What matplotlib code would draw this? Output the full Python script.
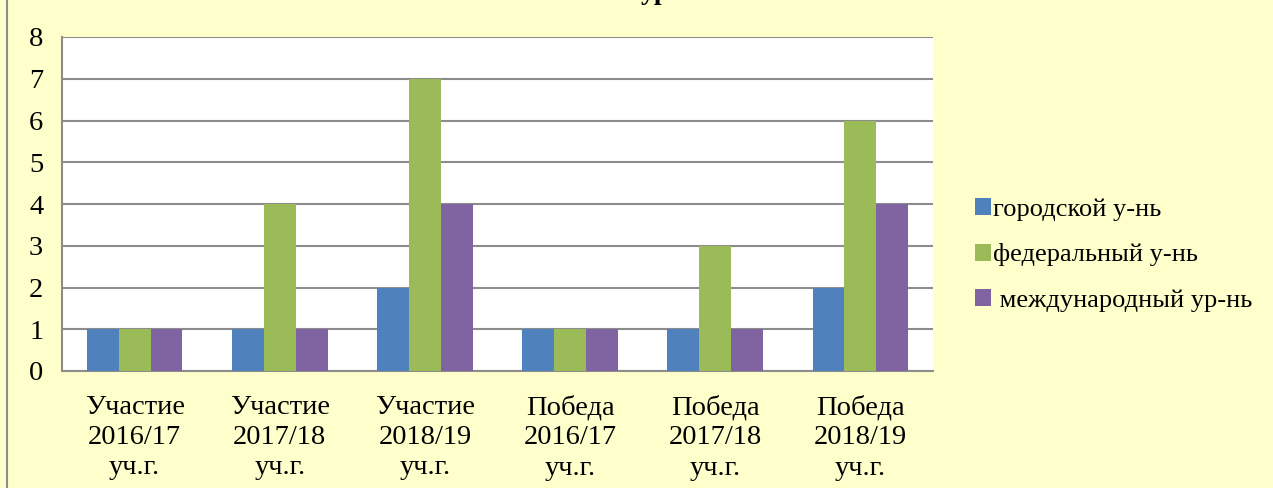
import numpy as np
import matplotlib.pyplot as plt
from matplotlib.lines import Line2D

# Data
categories = ['Участие\n2016/17\nуч.г.', 'Участие\n2017/18\nуч.г.', 'Участие\n2018/19\nуч.г.',
              'Победа\n2016/17\nуч.г.', 'Победа\n2017/18\nуч.г.', 'Победа\n2018/19\nуч.г.']
city = [1, 1, 2, 1, 1, 2]
federal = [1, 4, 7, 1, 3, 6]
international = [1, 1, 4, 1, 1, 4]
series_names = ['городской у-нь', 'федеральный у-нь', ' международный ур-нь']
colors = ['#4F81BD', '#9BBB59', '#8064A2']

plt.rcParams['font.family'] = ['Liberation Serif', 'DejaVu Serif']

fig = plt.figure(figsize=(12.73, 4.88), dpi=100)
fig.patch.set_facecolor('#FFFFCC')
ax = fig.add_axes([62 / 1273, 1 - 371 / 488, (933 - 62) / 1273, (371 - 37) / 488])
ax.set_facecolor('white')

x = np.arange(len(categories))
w = 0.22
for i, vals in enumerate([city, federal, international]):
    ax.bar(x + (i - 1) * w, vals, width=w, color=colors[i], label=series_names[i], zorder=3)

ax.set_xlim(-0.5, len(categories) - 0.5)
ax.set_ylim(0, 8)
ax.set_yticks(range(0, 9))
ax.set_xticks(x)
ax.set_xticklabels(categories, fontsize=20.5, linespacing=1.28)
ax.tick_params(axis='y', labelsize=20.5, length=0, pad=13.5)
ax.tick_params(axis='x', length=0, pad=17)
ax.grid(axis='y', color='#8C8C8C', linewidth=1.5, zorder=1)

for side in ['top', 'right']:
    ax.spines[side].set_visible(False)
for side in ['left', 'bottom']:
    ax.spines[side].set_color('#8C8C8C')
    ax.spines[side].set_linewidth(1.5)

leg = ax.legend(loc='center left', bbox_to_anchor=(951 / 1273, 1 - 255 / 488),
                bbox_transform=fig.transFigure, frameon=False, fontsize=19,
                handlelength=0.6, handleheight=0.6, handletextpad=0.1, labelspacing=0.85)

# chart title, mostly cut off at the top of the picture
fig.text(655 / 1273, 1.0 + 1 / 488, 'ур', ha='center', va='baseline',
         fontsize=20, fontweight='bold')

# left border of the chart area
fig.add_artist(Line2D([7 / 1273, 7 / 1273], [0, 1], transform=fig.transFigure,
                      color='#8C8C8C', linewidth=1.5))

fig.savefig('out.png', dpi=100, facecolor=fig.get_facecolor())
